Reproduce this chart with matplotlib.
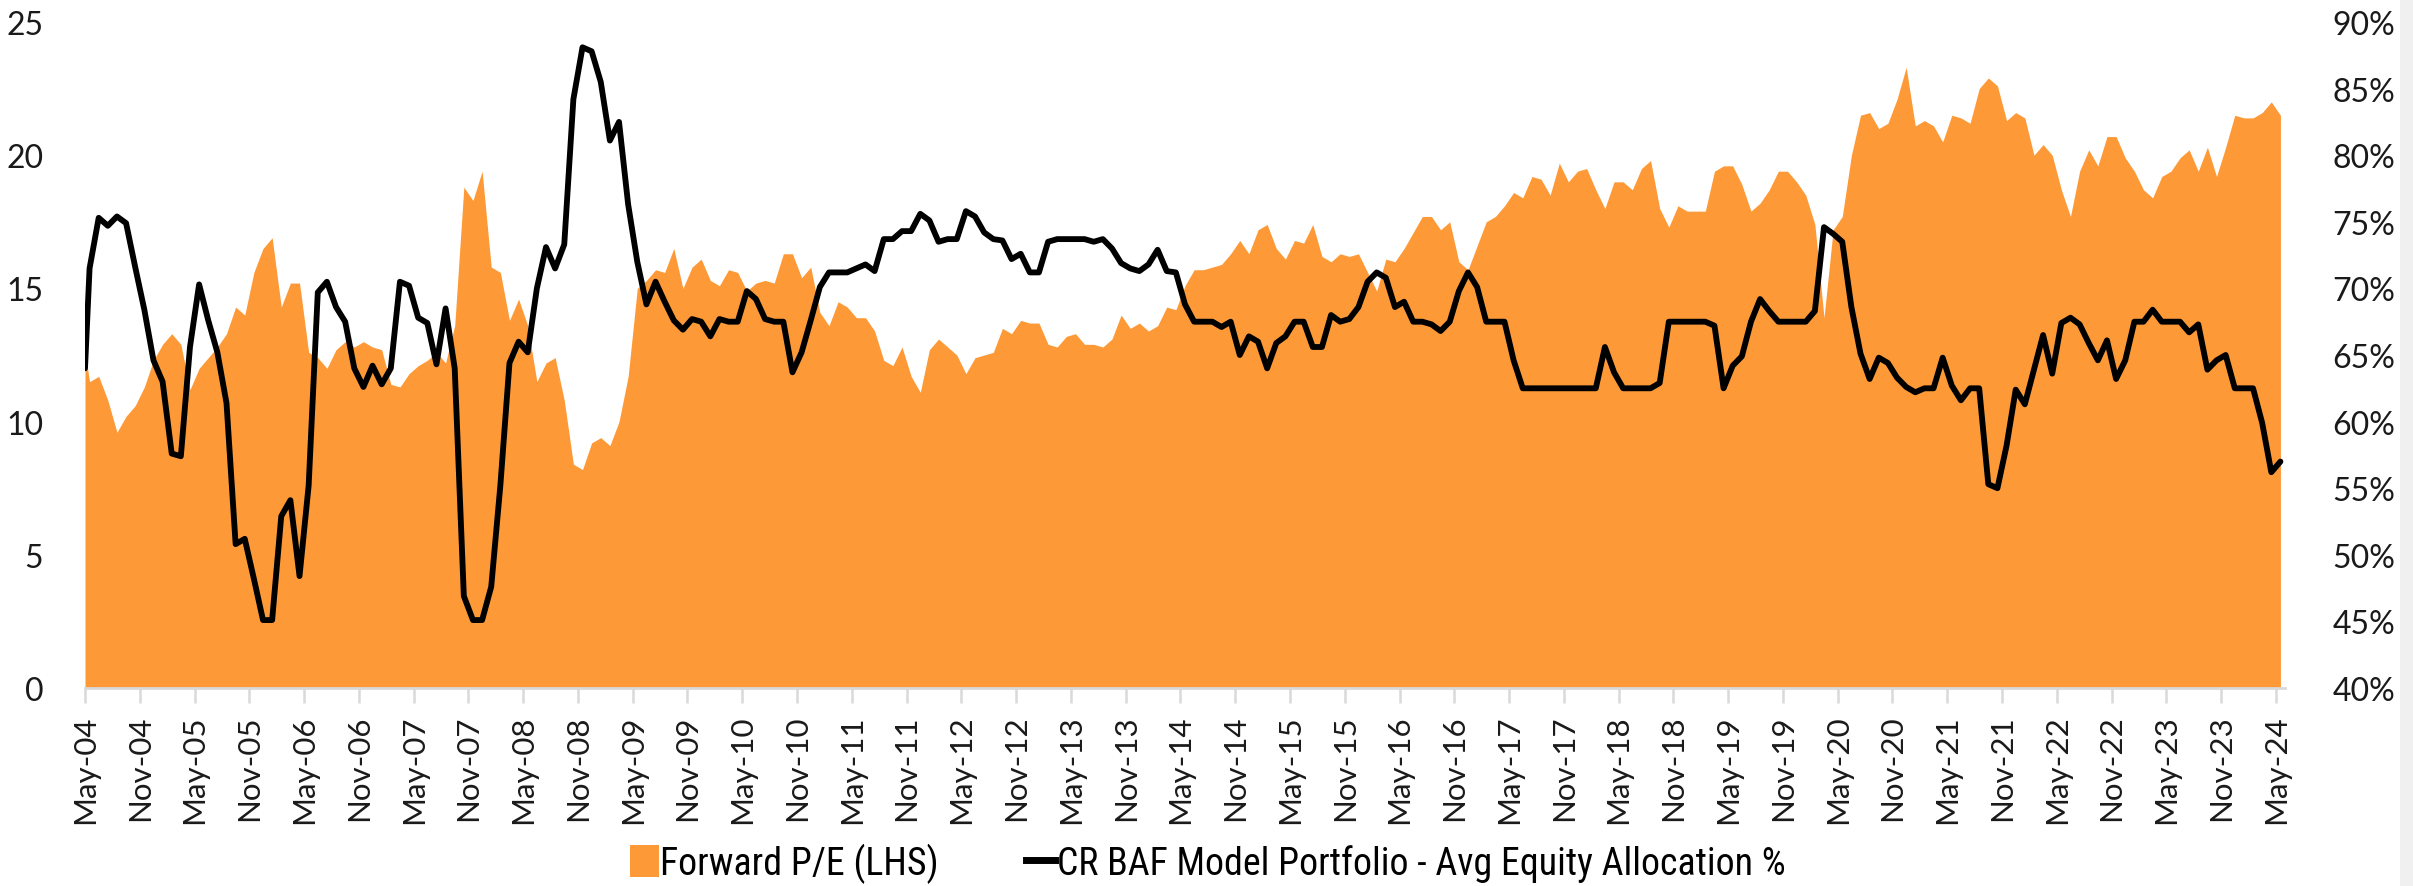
import numpy as np
import matplotlib
matplotlib.use("Agg")
import matplotlib.pyplot as plt
from matplotlib import font_manager
from matplotlib.patches import Patch, Rectangle
from matplotlib.lines import Line2D
from matplotlib.ticker import FuncFormatter

# ---------------- data ----------------
# Forward P/E (LHS): first value at the May-04 axis edge, then one value per month May-04 .. May-24
forward_pe = [12.6,
    11.5, 11.7, 10.8, 9.6, 10.2, 10.6, 11.3, 12.3, 12.9, 13.3, 12.9, 11.2, 12.0, 12.4, 12.8, 13.3, 14.3, 14.0, 15.6, 16.5,
    16.9, 14.3, 15.2, 15.2, 12.6, 12.4, 12.0, 12.7, 13.0, 12.8, 13.0, 12.8, 12.7, 11.4, 11.3, 11.8, 12.1, 12.3, 12.6, 12.2,
    13.6, 18.8, 18.3, 19.4,
    15.8, 15.6, 13.8, 14.6, 13.6, 11.5, 12.2, 12.4, 10.8, 8.4, 8.2, 9.2, 9.4, 9.1, 10.0, 11.7, 15.0, 15.3, 15.7, 15.6,
    16.5, 15.0, 15.8, 16.1, 15.3, 15.1, 15.7, 15.6, 14.9, 15.2, 15.3, 15.2, 16.3, 16.3, 15.4, 15.8, 14.1, 13.6, 14.5, 14.3,
    13.9, 13.9, 13.4, 12.3,
    12.1, 12.8, 11.7, 11.1, 12.7, 13.1, 12.8, 12.5, 11.8, 12.4, 12.5, 12.6, 13.5, 13.3, 13.8, 13.7, 13.7, 12.9, 12.8, 13.2,
    13.3, 12.9, 12.9, 12.8, 13.1, 14.0, 13.5, 13.7, 13.4, 13.6, 14.3, 14.2, 15.1, 15.7, 15.7, 15.8, 15.9, 16.3, 16.8, 16.3,
    17.2, 17.4, 16.5,
    16.1, 16.8, 16.7, 17.4, 16.2, 16.0, 16.3, 16.2, 16.3, 15.6, 14.9, 16.1, 16.0, 16.5, 17.1, 17.7, 17.7, 17.2, 17.5, 16.0,
    15.7, 16.6, 17.5, 17.7, 18.1, 18.6, 18.4, 19.2, 19.1, 18.5, 19.7, 19.0, 19.4, 19.5, 18.7, 18.0, 19.0, 19.0, 18.7, 19.5,
    19.8, 18.0, 17.3, 18.1,
    17.9, 17.9, 17.9, 19.4, 19.6, 19.6, 18.9, 17.9, 18.2, 18.7, 19.4, 19.4, 19.0, 18.5, 17.4, 13.9, 17.2, 17.7, 20.0, 21.5,
    21.6, 21.0, 21.2, 22.1, 23.3, 21.1, 21.3, 21.1, 20.5, 21.5, 21.4, 21.2, 22.5, 22.9, 22.6, 21.3, 21.6, 21.4, 20.0, 20.4,
    20.0, 18.7, 17.7, 19.4,
    20.2, 19.6, 20.7, 20.7, 19.9, 19.4, 18.7, 18.4, 19.2, 19.4, 19.9, 20.2, 19.4, 20.3, 19.2, 20.3, 21.5, 21.4, 21.4, 21.6,
    22.0, 21.5]

# CR BAF Model Portfolio - Avg Equity Allocation % (RHS)
equity_alloc = [64.0,
    71.5, 75.3, 74.7, 75.4, 74.9, 71.6, 68.4, 64.6, 63.0, 57.6, 57.4, 65.6, 70.3, 67.6, 65.2, 61.4, 50.8, 51.2, 48.2, 45.1,
    45.1, 52.9, 54.1, 48.4, 55.2, 69.7, 70.5, 68.6, 67.5, 64.0, 62.6, 64.2, 62.8, 64.0, 70.5, 70.2, 67.8, 67.4, 64.3, 68.5,
    64.0, 46.9, 45.1, 45.1,
    47.6, 55.2, 64.4, 66.0, 65.2, 70.0, 73.1, 71.5, 73.3, 84.2, 88.1, 87.8, 85.5, 81.1, 82.5, 76.3, 72.0, 68.8, 70.5, 69.0,
    67.6, 66.9, 67.7, 67.5, 66.4, 67.7, 67.5, 67.5, 69.8, 69.2, 67.7, 67.5, 67.5, 63.7, 65.2, 67.6, 70.1, 71.2, 71.2, 71.2,
    71.5, 71.8, 71.3, 73.7,
    73.7, 74.3, 74.3, 75.6, 75.1, 73.5, 73.7, 73.7, 75.8, 75.4, 74.2, 73.7, 73.6, 72.2, 72.6, 71.2, 71.2, 73.5, 73.7, 73.7,
    73.7, 73.7, 73.5, 73.7, 73.0, 71.9, 71.5, 71.3, 71.8, 72.9, 71.3, 71.2, 68.8, 67.5, 67.5, 67.5, 67.1, 67.5, 65.0, 66.4,
    66.0, 64.0, 65.9,
    66.4, 67.5, 67.5, 65.6, 65.6, 68.0, 67.5, 67.7, 68.6, 70.5, 71.2, 70.8, 68.6, 69.0, 67.5, 67.5, 67.3, 66.8, 67.5, 69.8,
    71.2, 70.1, 67.5, 67.5, 67.5, 64.6, 62.5, 62.5, 62.5, 62.5, 62.5, 62.5, 62.5, 62.5, 62.5, 65.6, 63.7, 62.5, 62.5, 62.5,
    62.5, 62.9, 67.5, 67.5,
    67.5, 67.5, 67.5, 67.2, 62.5, 64.2, 64.9, 67.5, 69.2, 68.3, 67.5, 67.5, 67.5, 67.5, 68.3, 74.6, 74.1, 73.5, 68.6, 65.1,
    63.2, 64.8, 64.4, 63.3, 62.6, 62.2, 62.5, 62.5, 64.8, 62.7, 61.6, 62.5, 62.5, 55.3, 55.0, 58.2, 62.4, 61.3, 63.9, 66.5,
    63.6, 67.4, 67.8, 67.3,
    65.9, 64.6, 66.1, 63.2, 64.6, 67.5, 67.5, 68.4, 67.5, 67.5, 67.5, 66.7, 67.3, 63.9, 64.6, 65.0, 62.5, 62.5, 62.5, 59.9,
    56.2, 57.0]

tick_labels = ["May-04", "Nov-04", "May-05", "Nov-05", "May-06", "Nov-06", "May-07", "Nov-07", "May-08", "Nov-08",
               "May-09", "Nov-09", "May-10", "Nov-10", "May-11", "Nov-11", "May-12", "Nov-12", "May-13", "Nov-13",
               "May-14", "Nov-14", "May-15", "Nov-15", "May-16", "Nov-16", "May-17", "Nov-17", "May-18", "Nov-18",
               "May-19", "Nov-19", "May-20", "Nov-20", "May-21", "Nov-21", "May-22", "Nov-22", "May-23", "Nov-23",
               "May-24"]
left_ticks = [0, 5, 10, 15, 20, 25]
right_ticks = [40, 45, 50, 55, 60, 65, 70, 75, 80, 85, 90]
legend_labels = ["Forward P/E (LHS)", "CR BAF Model Portfolio - Avg Equity Allocation %"]

# ---------------- style ----------------
ORANGE = "#FD9936"
GRAY = "#D9D9D9"

def pick(fams):
    for f in fams:
        try:
            font_manager.findfont(f, fallback_to_default=False)
            return f
        except Exception:
            pass
    return "DejaVu Sans"

tick_font = pick(["Lato", "Open Sans", "DejaVu Sans"])
legend_font = pick(["Liberation Sans Narrow", "Roboto Condensed", "Liberation Sans"])
plt.rcParams["font.family"] = [tick_font, "DejaVu Sans"]

n_months = len(tick_labels) * 6 - 5  # 241 monthly categories
x = np.concatenate([[0.0], np.arange(n_months) + 0.5])

fig = plt.figure(figsize=(24.13, 8.87), dpi=100)
ax = fig.add_axes([85 / 2413, 1 - 689 / 887, (2285 - 85) / 2413, (689 - 23) / 887])
ax2 = ax.twinx()

ax.fill_between(x, 0, forward_pe, color=ORANGE, linewidth=0, zorder=1)
ax2.plot(x, equity_alloc, color="black", linewidth=4.2, solid_joinstyle="round",
         solid_capstyle="round", zorder=3)

ax.set_xlim(0, n_months)
ax.set_ylim(0, 25)
ax2.set_ylim(40, 90)
ax.set_yticks(left_ticks)
ax2.set_yticks(right_ticks)
ax2.yaxis.set_major_formatter(FuncFormatter(lambda v, p: f"{v:.0f}%"))

ax.set_xticks(np.arange(0, n_months, 6))
ax.set_xticklabels(tick_labels, rotation=90)

for a in (ax, ax2):
    for s in a.spines.values():
        s.set_visible(False)
ax.spines["bottom"].set_visible(True)
ax.spines["bottom"].set_color(GRAY)
ax.spines["bottom"].set_linewidth(2)

ax.tick_params(axis="x", length=11, width=1.8, color=GRAY, labelsize=22.5, pad=8, labelcolor="#1a1a1a")
ax.tick_params(axis="y", length=0, labelsize=23, pad=30, labelcolor="#1a1a1a")
ax2.tick_params(axis="y", length=0, labelsize=23, pad=34, labelcolor="#1a1a1a")

handles = [Patch(facecolor=ORANGE, edgecolor="none"),
           Line2D([0], [0], color="black", linewidth=5)]
leg = fig.legend(handles, legend_labels, loc="center", bbox_to_anchor=(0.5005, 0.026), ncol=2,
                 frameon=False, prop={"family": legend_font, "size": 27.3},
                 handlelength=0.75, handleheight=0.9, handletextpad=0.05, columnspacing=2.3,
                 borderpad=0.0)

# light strip on the far right edge
fig.patches.append(Rectangle((2400 / 2413, 0), 13 / 2413, 1, transform=fig.transFigure,
                             facecolor="#F0F0F0", edgecolor="none"))

fig.savefig("out.png", dpi=100)
